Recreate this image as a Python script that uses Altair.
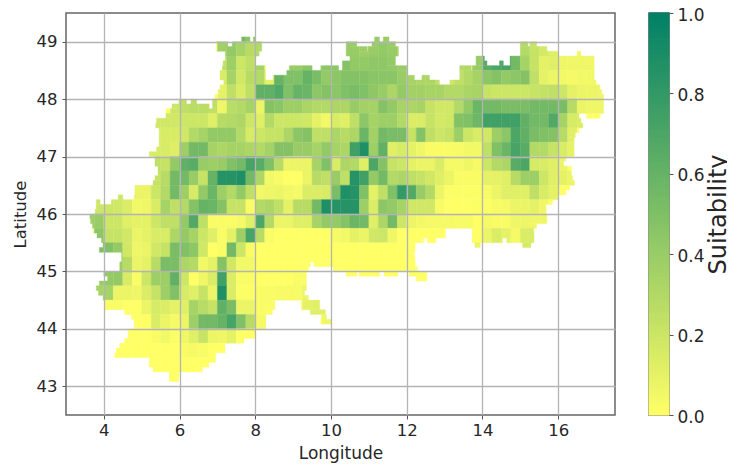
import math
import altair as alt
import pandas as pd

X_TICKS = [4, 6, 8, 10, 12, 14, 16]
Y_TICKS = [43, 44, 45, 46, 47, 48, 49]
BAR_TICKS = [0, 0.2, 0.4, 0.6, 0.8, 1.0]
BAR_LEVELS = list(range(0, 200))

# suitability (percent) on the quarter-degree grid: first longitude and values of each band
R4900 = (7.5, [55, 45, 0, 0, 0, 0, 0, 0, 0, 0, 0, 0, 0, 0, 40, 40, 40])
R4875 = (7.0, [37, 42, 35, 28, 30, 0, 0, 0, 0, 0, 0, 0, 0, 40, 40, 38, 40, 42, 40, 36, 0, 0, 0, 0, 0, 0, 0, 0, 0, 0, 0, 0, 30, 22, 17, 12, 0, 0, 5])
R4850 = (7.0, [25, 38, 20, 25, 35, 0, 0, 40, 40, 45, 40, 45, 45, 48, 42, 42, 44, 44, 42, 40, 0, 0, 0, 0, 0, 30, 30, 40, 65, 70, 72, 55, 35, 22, 10, 12, 6, 6, 6, 6])
R4825 = (7.0, [15, 35, 18, 28, 30, 10, 60, 50, 50, 60, 52, 42, 45, 48, 48, 48, 46, 46, 46, 40, 34, 32, 32, 25, 20, 25, 30, 35, 45, 48, 42, 45, 48, 25, 10, 7, 5, 4, 5, 5])
R4800 = (7.0, [10, 25, 15, 25, 62, 62, 68, 50, 60, 58, 45, 48, 45, 50, 52, 50, 44, 40, 32, 42, 36, 36, 34, 34, 30, 30, 33, 34, 22, 20, 20, 20, 20, 22, 24, 25, 20, 10, 8, 7, 7])
R4775 = (5.75, [20, 25, 27, 27, 25, 6, 27, 30, 35, 8, 48, 46, 38, 38, 33, 30, 30, 32, 32, 40, 36, 35, 48, 42, 34, 32, 34, 22, 18, 18, 30, 42, 58, 55, 55, 52, 52, 52, 55, 55, 55, 52, 28, 8, 6, 6, 6])
R4750 = (5.25, [18, 18, 18, 20, 20, 20, 12, 28, 30, 32, 20, 12, 30, 20, 20, 20, 18, 10, 5, 15, 12, 25, 45, 35, 38, 38, 30, 14, 14, 22, 17, 18, 48, 50, 57, 75, 75, 75, 75, 62, 55, 55, 68, 35, 16, 14])
R4725 = (5.25, [15, 15, 15, 18, 30, 35, 42, 42, 42, 30, 16, 20, 22, 22, 32, 45, 48, 25, 25, 32, 28, 32, 58, 36, 55, 52, 52, 22, 48, 25, 20, 22, 38, 20, 15, 18, 38, 45, 70, 62, 52, 50, 48, 28, 12])
R4700 = (5.0, [15, 15, 15, 13, 38, 55, 55, 35, 32, 35, 35, 32, 30, 35, 48, 48, 40, 40, 35, 42, 35, 32, 75, 88, 38, 62, 12, 16, 10, 6, 2, 2, 2, 3, 5, 5, 25, 50, 58, 72, 65, 30, 30, 22, 15, 10])
R4675 = (5.25, [25, 22, 42, 62, 65, 40, 38, 40, 50, 55, 72, 65, 50, 28, 8, 8, 8, 35, 50, 15, 32, 30, 12, 70, 48, 22, 20, 10, 8, 8, 14, 4, 4, 6, 4, 20, 30, 32, 65, 70, 16, 15, 12, 8])
R4650 = (5.25, [22, 28, 55, 55, 40, 22, 60, 85, 85, 88, 55, 32, 5, 3, 0, 0, 8, 28, 25, 40, 25, 85, 75, 42, 55, 30, 32, 25, 22, 18, 12, 8, 2, 2, 2, 10, 10, 12, 28, 38, 38, 20, 12, 10, 8])
R4625 = (4.25, [20, 8, 8, 8, 20, 30, 55, 38, 16, 42, 58, 38, 30, 42, 25, 5, 6, 8, 5, 4, 14, 14, 15, 52, 88, 85, 50, 10, 25, 50, 80, 68, 40, 30, 8, 1, 1, 1, 1, 3, 8, 12, 12, 12, 25, 15, 10])
R4600 = (3.75, [20, 20, 18, 14, 5, 6, 15, 35, 25, 30, 48, 60, 58, 48, 22, 22, 2, 30, 32, 25, 10, 28, 28, 55, 88, 85, 85, 85, 38, 14, 45, 42, 35, 18, 18, 18, 3, 0, 0, 0, 1, 1, 3, 4, 8, 8, 10, 6])
R4575 = (3.5, [38, 40, 20, 20, 12, 10, 10, 20, 25, 25, 42, 68, 25, 2, 2, 2, 4, 12, 70, 30, 8, 8, 12, 12, 35, 42, 42, 48, 58, 55, 12, 32, 55, 20, 8, 5, 4, 4, 4, 3, 3, 0, 4, 2, 2, 6, 7, 6, 6, 6])
R4550 = (3.75, [45, 22, 22, 18, 8, 10, 15, 15, 32, 42, 35, 20, 12, 2, 10, 38, 72, 28, 2, 0, 0, 0, 0, 0, 0, 4, 5, 10, 8, 18, 20, 6, 0, 0, 0, 0, 0, 0, 0, 0, 0, 8, 14, 10, 4, 14, 15, 15])
R4525 = (3.75, [50, 50, 42, 18, 6, 8, 18, 22, 52, 50, 45, 18, 0, 2, 55, 20, 2, 0, 0, 0, 0, 0, 0, 0, 0, 0, 0, 0, 0, 0, 0, 0, 0, 0, 0, 0, 0, 0, 0, 0, 8, 8, 0, 0, 0, 16, 16])
R4500 = (4.25, [40, 28, 8, 10, 28, 52, 52, 32, 30, 5, 10, 48, 18, 5, 5, 0, 0, 0, 0, 0, 0, 0, 0, 0, 0, 0, 0, 0, 0, 0, 0, 0, 0])
R4475 = (3.75, [40, 42, 42, 16, 2, 20, 38, 38, 62, 20, 0, 6, 14, 75, 14, 2, 2, 0, 0, 0, 0, 2, 2, 0, 0, 0, 0, 0, 0, 0, 0, 0, 0, 0, 0, 0, 0])
R4450 = (3.75, [35, 35, 8, 8, 6, 14, 22, 38, 50, 16, 12, 22, 8, 88, 14, 1, 1, 2, 2, 3, 3, 3, 8, 8])
R4425 = (4.0, [2, 2, 0, 0, 8, 16, 14, 10, 12, 35, 28, 22, 62, 52, 8, 8, 2, 2, 2, 2, 2, 10, 12, 12])
R4400 = (4.75, [0, 0, 14, 8, 4, 8, 38, 55, 55, 60, 72, 50, 28, 4, 4, 0, 0, 0, 0, 0, 6])
R4375 = (4.5, [0, 0, 0, 2, 5, 1, 6, 12, 22, 8, 6, 10, 0, 0])
R4350 = (4.25, [0, 0, 0, 0, 0, 0, 0, 2, 4, 2, 0, 0])
R4325 = (5.0, [0, 0, 0, 0, 0, 0, 0, 0])
R4300 = (5.5, [0, 0])

BANDS = {49.0: R4900, 48.75: R4875, 48.5: R4850, 48.25: R4825, 48.0: R4800, 47.75: R4775,
         47.5: R4750, 47.25: R4725, 47.0: R4700, 46.75: R4675, 46.5: R4650, 46.25: R4625,
         46.0: R4600, 45.75: R4575, 45.5: R4550, 45.25: R4525, 45.0: R4500, 44.75: R4475,
         44.5: R4450, 44.25: R4425, 44.0: R4400, 43.75: R4375, 43.5: R4350, 43.25: R4325,
         43.0: R4300}

# land outline: longitude spans of each twelfth-of-a-degree latitude strip, north to south
SPANS = [
 [(7.64,7.86),(7.95,8.0),(11.15,11.28),(11.38,11.53)],
 [(6.97,7.27),(7.39,8.17),(10.4,10.68),(11.08,11.7),(15,15.2),(15.25,15.43)],
 [(6.97,8.17),(10.4,10.95),(10.97,11.78),(15,15.7)],
 [(7.21,8.1),(10.4,11.78),(15,16),(16.5,16.6)],
 [(7.21,8.0),(10.5,11.7),(13.83,14.05),(14.73,16.95)],
 [(7.15,8.0),(10.3,11.7),(13.83,14.12),(14.45,14.55),(14.73,16.95)],
 [(7.13,8.27),(8.9,9.5),(9.73,10.2),(10.3,12.0),(13.4,13.7),(13.72,16.95)],
 [(7.07,8.27),(8.83,12.0),(13.4,16.95)],
 [(7.07,8.27),(8.47,12.2),(12.4,12.6),(13.4,16.95)],
 [(7.17,12.86),(13.14,17.0)],
 [(7.07,17.1)],
 [(7.02,17.15)],
 [(6.93,17.2)],
 [(5.98,6.18),(6.3,6.45),(6.87,17.2)],
 [(5.8,6.78),(6.87,17.2)],
 [(5.64,17.2)],
 [(5.64,16.55),(16.75,17.1)],
 [(5.39,16.6)],
 [(5.37,16.65)],
 [(5.46,16.55)],
 [(5.46,16.45)],
 [(5.46,16.42)],
 [(5.46,16.42)],
 [(5.39,16.42)],
 [(5.2,16.42)],
 [(5.35,16.2)],
 [(5.35,16.14)],
 [(5.43,16.35)],
 [(5.43,16.35)],
 [(5.35,16.38)],
 [(5.3,16.43)],
 [(4.82,16.3)],
 [(4.82,16.2)],
 [(4.38,4.5),(4.8,16.0)],
 [(3.8,3.9),(4.2,15.85)],
 [(3.8,15.68)],
 [(3.77,15.68)],
 [(3.63,15.7)],
 [(3.65,15.7)],
 [(3.7,15.43)],
 [(3.72,13.02),(13.73,15.35)],
 [(3.82,13.02),(13.73,15.36)],
 [(3.94,12.44),(12.55,12.77),(13.73,14.53),(14.64,15.36)],
 [(3.98,12.22),(13.8,13.94),(15.06,15.28)],
 [(3.88,12.22)],
 [(4.47,12.2)],
 [(4.47,12.22)],
 [(4.42,9.45),(9.55,12.22)],
 [(4.42,9.4),(10.06,12.28)],
 [(4.0,9.35),(10.4,10.68),(10.74,11.28),(11.4,11.76),(12.06,12.53)],
 [(4.1,9.35),(12.25,12.53)],
 [(3.88,9.35)],
 [(3.8,9.35)],
 [(3.86,9.3)],
 [(3.98,9.4)],
 [(4.03,8.52),(9.22,9.7)],
 [(4.03,8.52),(9.22,9.7)],
 [(4.55,8.45),(9.45,9.85)],
 [(4.73,8.28),(9.75,9.88)],
 [(4.8,8.28),(9.73,10.0)],
 [(4.8,8.28)],
 [(4.64,8.0)],
 [(4.64,8.0)],
 [(4.55,7.7)],
 [(4.42,7.2)],
 [(4.33,7.2)],
 [(4.29,6.95)],
 [(5.2,6.95)],
 [(5.2,6.77)],
 [(5.3,6.6)],
 [(5.73,5.98)],
 [(5.73,5.98)],
]


def value_at(lat_low, col):
    start, vals = BANDS[lat_low]
    i = col - int(round((start - 3.5) / 0.25))
    if 0 <= i < len(vals):
        return vals[i] / 100
    return 0.0


pieces = {}
for i, spans in enumerate(SPANS):
    lat_low = 49.0 - 0.25 * math.ceil(i / 3)
    top = 49.0 + 1 / 12 - i / 12
    bottom = top - 1 / 12
    for l, r in spans:
        c0 = int((l - 3.5) / 0.25)
        c1 = int(math.ceil((r - 3.5) / 0.25))
        for c in range(c0, c1):
            a = max(l, 3.5 + c * 0.25)
            b = min(r, 3.5 + (c + 1) * 0.25)
            if b <= a:
                continue
            lst = pieces.setdefault((lat_low, c), [])
            if lst and lst[-1][2] == a and lst[-1][3] == b and abs(lst[-1][1] - top) < 1e-6:
                lst[-1][1] = bottom
            else:
                lst.append([top, bottom, a, b])

records = []
for (lat_low, c), lst in pieces.items():
    v = value_at(lat_low, c)
    for t, bt, a, b in lst:
        records.append({"lon": a, "lon2": b, "lat": bt, "lat2": t, "v": v})
cells = pd.DataFrame(records)

C0, C1 = "#ffff66", "#008066"
color_scale = alt.Scale(domain=[0, 1], range=[C0, C1], interpolate="rgb")
TICK_FONT = 16.5
TXT = "#262626"
AX = "#555555"

main = alt.Chart(cells).mark_rect(strokeWidth=0.4).encode(
    x=alt.X("lon:Q", scale=alt.Scale(domain=[3, 17.5], nice=False),
            axis=alt.Axis(values=X_TICKS, title="Longitude", format="d", grid=True, gridColor="#b4b4b4",
                          gridWidth=1.3, zindex=1, domain=False, tickColor=AX, tickSize=4, labelFontSize=TICK_FONT,
                          labelColor=TXT, titleFontSize=17, titleColor=TXT, titleFontWeight="normal",
                          titlePadding=7, labelPadding=3, labelFont="DejaVu Sans", titleFont="DejaVu Sans")),
    x2="lon2:Q",
    y=alt.Y("lat:Q", scale=alt.Scale(domain=[42.5, 49.5], nice=False),
            axis=alt.Axis(values=Y_TICKS, title="Latitude", format="d", grid=True, gridColor="#b4b4b4",
                          gridWidth=1.3, zindex=1, domain=False, tickColor=AX, tickSize=4, labelFontSize=TICK_FONT,
                          labelColor=TXT, titleFontSize=16.5, titleColor=TXT, titleFontWeight="normal",
                          titlePadding=8, labelPadding=5, labelFont="DejaVu Sans", titleFont="DejaVu Sans")),
    y2="lat2:Q",
    color=alt.Color("v:Q", scale=color_scale, legend=None),
    stroke=alt.Stroke("v:Q", scale=color_scale, legend=None),
).properties(width=549, height=402)

bar_df = pd.DataFrame({"a": [k / 200 for k in BAR_LEVELS], "b": [(k + 1) / 200 for k in BAR_LEVELS]})
bar_df["m"] = (bar_df["a"] + bar_df["b"]) / 2
bar = alt.Chart(bar_df).mark_rect(strokeWidth=1).encode(
    x=alt.value(0),
    x2=alt.value(20),
    y=alt.Y("a:Q", scale=alt.Scale(domain=[0, 1], nice=False),
            axis=alt.Axis(orient="right", values=BAR_TICKS, format=".1f", title="Suitability", titleAngle=270,
                          grid=False, domain=False, tickColor=AX, tickSize=4, labelFontSize=17, labelColor=TXT,
                          labelOffset=2, titleFontSize=24, titleColor=TXT, titleFontWeight="normal", titlePadding=14,
                          labelPadding=4, labelFont="DejaVu Sans", titleFont="DejaVu Sans", titleBaseline="middle")),
    y2="b:Q",
    color=alt.Color("m:Q", scale=color_scale, legend=None),
    stroke=alt.Stroke("m:Q", scale=color_scale, legend=None),
).properties(width=20, height=402)

chart = alt.hconcat(main, bar, spacing=31).resolve_scale(color="independent", stroke="independent").configure_view(
    stroke="#666666", strokeWidth=1.5
).properties(padding={"left": 3, "top": -3, "right": -4, "bottom": 0}, background="white")

chart.save("out.html", embed_options={"renderer": "svg", "actions": False})
